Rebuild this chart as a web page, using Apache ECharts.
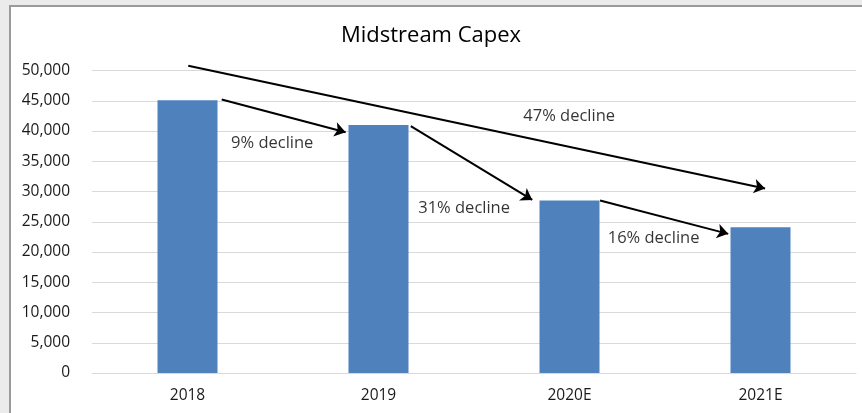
<!DOCTYPE html>
<html><head><meta charset="utf-8">
<script src="https://cdn.jsdelivr.net/npm/echarts@6/dist/echarts.min.js"></script>
<style>
html,body{margin:0;padding:0;background:#ebebeb;width:862px;height:413px;overflow:hidden;}
#frame{position:absolute;left:9px;top:5px;width:860px;height:420px;background:#fff;border-left:2px solid #9a9a9a;border-top:2px solid #9a9a9a;}
#c{position:absolute;left:0;top:0;width:862px;height:413px;}
</style></head><body>
<div id="frame"></div>
<div id="c"></div>
<script>
const categories = ['2018','2019','2020E','2021E'];
const capex = [45100, 41000, 28500, 24100];
const yTicks = [0,5000,10000,15000,20000,25000,30000,35000,40000,45000,50000];
// arrows: [startX, startY, endX, endY] in (category-index, value) units
const arrows = [
  [0.179, 45200, 0.828, 39800],
  [1.169, 40800, 1.805, 28600],
  [2.160, 28500, 2.831, 23000],
  [0.004, 50800, 3.024, 30500]
];
const notes = [
  [0.228, 38000, '9% decline'],
  [1.208, 27300, '31% decline'],
  [2.200, 22200, '16% decline'],
  [1.758, 42400, '47% decline']
];

const chart = echarts.init(document.getElementById('c'));
const font = '"Open Sans", "Noto Sans", sans-serif';
chart.setOption({
  backgroundColor: 'transparent',
  animation: false,
  title: {
    text: 'Midstream Capex', left: 'center', top: 20,
    textStyle: {fontFamily: font, fontSize: 22, fontWeight: 'normal', color: '#000'}
  },
  grid: {left: 92, right: 6, top: 70.5, bottom: 40},
  xAxis: [
    {type: 'category', data: categories,
     axisLine: {show: true, lineStyle: {color: '#d9d9d9', width: 1}},
     axisTick: {show: false},
     axisLabel: {fontFamily: font, fontSize: 15.5, color: '#1a1a1a', margin: 15}},
    {type: 'value', min: -0.5, max: 3.5, show: false}
  ],
  yAxis: {
    type: 'value', min: yTicks[0], max: yTicks[yTicks.length-1], interval: 5000,
    axisLine: {show: false}, axisTick: {show: false},
    splitLine: {lineStyle: {color: '#d9d9d9', width: 1}},
    axisLabel: {fontFamily: font, fontSize: 15.5, color: '#1a1a1a', margin: 22,
      formatter: v => v.toLocaleString('en-US')}
  },
  series: [
    {type: 'bar', data: capex, barWidth: 60, xAxisIndex: 0,
     itemStyle: {color: '#4f81bd'}},
    {type: 'lines', coordinateSystem: 'cartesian2d', xAxisIndex: 1, yAxisIndex: 0,
     clip: false,
     symbol: ['none', 'arrow'], symbolSize: [0, 11],
     lineStyle: {color: '#000', width: 2, opacity: 1},
     data: arrows.map(a => ({coords: [[a[0], a[1]], [a[2], a[3]]]})),
     z: 5},
    {type: 'scatter', xAxisIndex: 1, yAxisIndex: 0, symbolSize: 0,
     data: notes.map(n => ({value: [n[0], n[1]], name: n[2]})),
     label: {show: true, position: 'right', distance: 0, formatter: p => p.name,
       fontFamily: font, fontSize: 16.5, color: '#000'},
     z: 6}
  ]
});
</script>
</body></html>
